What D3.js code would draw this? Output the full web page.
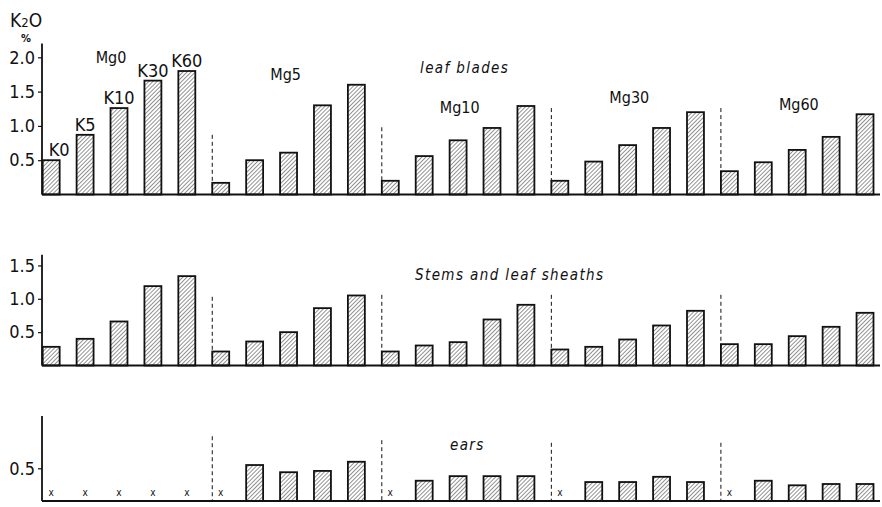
<!DOCTYPE html>
<html>
<head>
<meta charset="utf-8">
<script src="https://cdn.jsdelivr.net/npm/d3@7"></script>
<style>
  body { margin: 0; background: #fff; }
  svg { display: block; }
  text { font-family: "DejaVu Sans Condensed", "DejaVu Sans", sans-serif; fill: #111; }
</style>
</head>
<body>
<svg id="chart" width="882" height="507"></svg>
<script>
// K levels within each Mg group, and the Mg groups
const kLevels = ["K0", "K5", "K10", "K30", "K60"];
const mgGroups = ["Mg0", "Mg5", "Mg10", "Mg30", "Mg60"];

// K2O % — 5 Mg groups x 5 K levels
const leafBlades = [
  0.50, 0.87, 1.26, 1.66, 1.80,
  0.17, 0.50, 0.61, 1.30, 1.60,
  0.20, 0.56, 0.79, 0.97, 1.29,
  0.20, 0.48, 0.72, 0.97, 1.20,
  0.34, 0.47, 0.65, 0.84, 1.17
];
const stemsSheaths = [
  0.28, 0.40, 0.66, 1.19, 1.34,
  0.21, 0.36, 0.50, 0.86, 1.05,
  0.21, 0.30, 0.35, 0.69, 0.91,
  0.24, 0.28, 0.39, 0.60, 0.82,
  0.32, 0.32, 0.44, 0.58, 0.79
];
// null = no ears (marked with x)
const ears = [
  null, null, null, null, null,
  null, 0.55, 0.44, 0.46, 0.60,
  null, 0.31, 0.38, 0.38, 0.38,
  null, 0.29, 0.29, 0.37, 0.29,
  null, 0.31, 0.24, 0.26, 0.26
];

const leafTicks = [0.5, 1.0, 1.5, 2.0];
const stemTicks = [0.5, 1.0, 1.5];
const earTicks = [0.5];

// heights (in %) of the dashed group dividers and of the Mg labels
const leafDividers = [0.87, 0.98, 1.26, 1.26];
const stemDividers = [1.03, 1.06, 1.06, 1.06];
const earDividers = [0.99, 0.93, 0.89, 0.89];
const mgLabelLevels = [1.92, 1.67, 1.19, 1.33, 1.23];

const svg = d3.select("#chart");
const axisX = 42;

// diagonal hatching "////"
const defs = svg.append("defs");
defs.append("pattern")
  .attr("id", "hatch")
  .attr("patternUnits", "userSpaceOnUse")
  .attr("width", 2.9).attr("height", 2.9)
  .attr("patternTransform", "rotate(45)")
  .append("line")
  .attr("x1", 0).attr("y1", 0).attr("x2", 0).attr("y2", 2.9)
  .attr("stroke", "#111").attr("stroke-width", 0.9);

const idx = d3.range(kLevels.length * mgGroups.length);
const x = d3.scaleBand()
  .domain(idx)
  .range([42.7, 873.5])
  .paddingInner(0.5)
  .paddingOuter(0)
  .align(0);

const panels = [
  { values: leafBlades, ticks: leafTicks, dividers: leafDividers, zero: 194.5, top: 2.2, unit: 68.6,
    title: "leaf blades", titleX: 420, titleY: 73 },
  { values: stemsSheaths, ticks: stemTicks, dividers: stemDividers, zero: 365.5, top: 1.66, unit: 66.7,
    title: "Stems and leaf sheaths", titleX: 415, titleY: 280 },
  { values: ears, ticks: earTicks, dividers: earDividers, zero: 501, top: 1.3, unit: 65.4,
    title: "ears", titleX: 450, titleY: 450 }
];

panels.forEach((p, pi) => {
  const y = d3.scaleLinear().domain([0, p.top]).range([p.zero, p.zero - p.top * p.unit]);
  const g = svg.append("g");

  // bars
  const present = idx.filter(i => p.values[i] != null);
  g.selectAll("rect.bar").data(present).enter().append("rect")
    .attr("class", "bar")
    .attr("x", i => x(i))
    .attr("y", i => y(p.values[i]))
    .attr("width", x.bandwidth())
    .attr("height", i => y(0) - y(p.values[i]))
    .attr("fill", "url(#hatch)")
    .attr("stroke", "#111")
    .attr("stroke-width", 1.8);

  // missing values
  const missing = idx.filter(i => p.values[i] == null);
  g.selectAll("text.miss").data(missing).enter().append("text")
    .attr("class", "miss")
    .attr("x", i => x(i) + x.bandwidth() / 2)
    .attr("y", y(0) - 5)
    .attr("text-anchor", "middle")
    .attr("font-size", 10)
    .text("x");

  // dashed dividers at the start of each Mg group (except the first)
  g.selectAll("line.div").data(p.dividers).enter().append("line")
    .attr("class", "div")
    .attr("x1", (d, j) => x((j + 1) * kLevels.length))
    .attr("x2", (d, j) => x((j + 1) * kLevels.length))
    .attr("y1", d => y(d))
    .attr("y2", y(0))
    .attr("stroke", "#111")
    .attr("stroke-width", 1)
    .attr("stroke-dasharray", "4,3");

  // axes
  g.append("line")
    .attr("x1", axisX).attr("x2", axisX)
    .attr("y1", y(p.top)).attr("y2", y(0))
    .attr("stroke", "#111").attr("stroke-width", 1.8);
  g.append("line")
    .attr("x1", axisX).attr("x2", 880)
    .attr("y1", y(0)).attr("y2", y(0))
    .attr("stroke", "#111").attr("stroke-width", 1.8);

  const ax = d3.axisLeft(y).tickValues(p.ticks).tickSize(4).tickPadding(3)
    .tickFormat(d3.format(".1f"));
  const axG = g.append("g").attr("transform", `translate(${axisX},0)`).call(ax);
  axG.select(".domain").remove();
  axG.selectAll(".tick line").attr("stroke", "#111").attr("stroke-width", 1.2);
  axG.selectAll(".tick text")
    .attr("font-size", 18)
    .attr("fill", "#111")
    .style("font-family", '"DejaVu Sans Condensed", "DejaVu Sans", sans-serif')
    .style("font-weight", 300);

  // panel title
  g.append("text")
    .attr("x", p.titleX).attr("y", p.titleY)
    .attr("font-size", 15)
    .attr("font-style", "italic")
    .attr("letter-spacing", 1.4)
    .text(p.title);

  if (pi === 0) {
    // K labels over the first group
    g.selectAll("text.k").data(kLevels).enter().append("text")
      .attr("class", "k")
      .attr("x", (d, j) => x(j) + x.bandwidth() / 2 + (j === 0 ? 8 : 0))
      .attr("y", (d, j) => y(p.values[j]) - 4)
      .attr("text-anchor", "middle")
      .attr("font-size", 18)
      .text(d => d);
    // Mg group labels
    g.selectAll("text.mg").data(mgGroups).enter().append("text")
      .attr("class", "mg")
      .attr("x", (d, j) => x(j * kLevels.length) + (j === 0 ? 53 : 58))
      .attr("y", (d, j) => y(mgLabelLevels[j]))
      .attr("font-size", 16)
      .text(d => d);
  }
});

// unit label
const unit = svg.append("text").attr("x", 10).attr("y", 27).attr("font-size", 19);
unit.append("tspan").text("K");
unit.append("tspan").attr("font-size", 13).text("2");
unit.append("tspan").text("O");
svg.append("text").attr("x", 21).attr("y", 42).attr("font-size", 11).attr("font-weight", "bold").text("%");
</script>
</body>
</html>
